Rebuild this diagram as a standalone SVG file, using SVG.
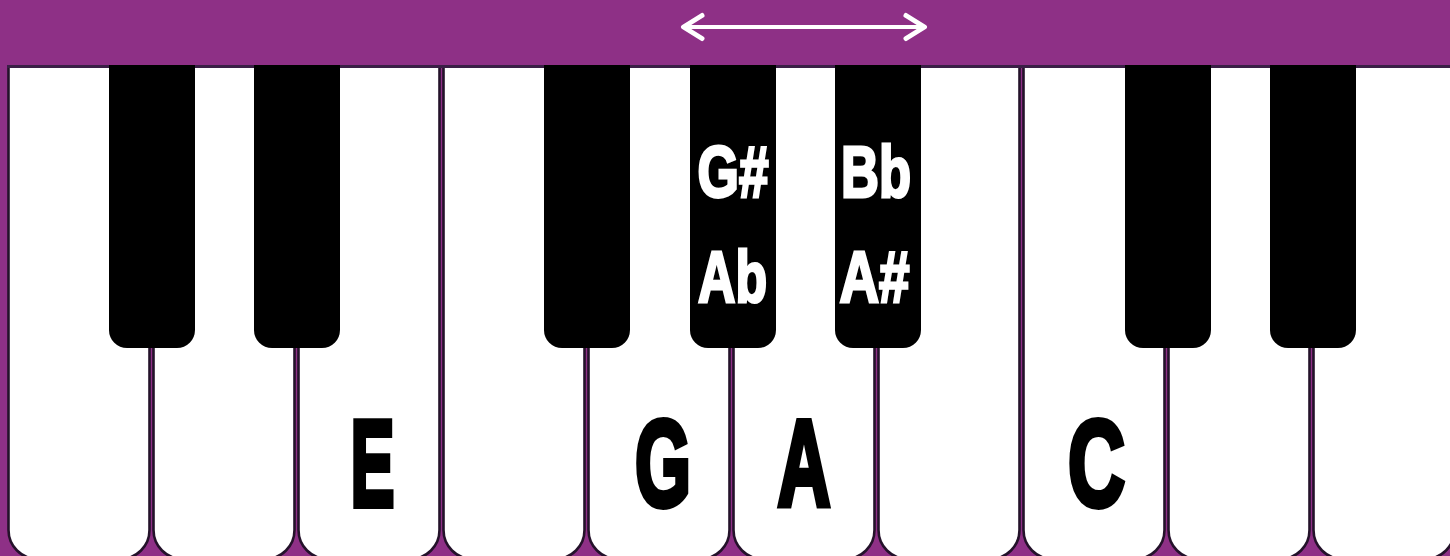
<svg xmlns="http://www.w3.org/2000/svg" width="1450" height="556" viewBox="0 0 1450 556">
<style>
.bg{fill:#8E3086}
.wk{fill:#ffffff;stroke:#24122a;stroke-width:2.6}
.bk{fill:#000000}
.big{font-family:"Liberation Sans",Arial,sans-serif;font-weight:bold;font-size:123px;fill:#000;stroke:#000;stroke-width:6;stroke-linejoin:miter;text-anchor:middle}
.sm{font-family:"Liberation Sans",Arial,sans-serif;font-weight:bold;font-size:72px;fill:#fff;stroke:#fff;stroke-width:3;text-anchor:middle}
.arr{fill:none;stroke:#ffffff;stroke-linecap:round;stroke-linejoin:round}
</style>
<rect class="bg" x="0" y="0" width="1450" height="556"/>
<g id="white-keys">
<g id="key-C1"><rect class="wk" x="8.5" y="30" width="141" height="529" rx="29"/></g>
<g id="key-D1"><rect class="wk" x="153.5" y="30" width="141" height="529" rx="29"/></g>
<g id="key-E1"><rect class="wk" x="298.5" y="30" width="141" height="529" rx="29"/><text class="big" x="372.5" y="506" textLength="44" lengthAdjust="spacingAndGlyphs">E</text></g>
<g id="key-F"><rect class="wk" x="443.5" y="30" width="141" height="529" rx="29"/></g>
<g id="key-G"><rect class="wk" x="588.5" y="30" width="141" height="529" rx="29"/><text class="big" x="663" y="506" textLength="56" lengthAdjust="spacingAndGlyphs">G</text></g>
<g id="key-A"><rect class="wk" x="733.5" y="30" width="141" height="529" rx="29"/><text class="big" x="804" y="506" textLength="53" lengthAdjust="spacingAndGlyphs">A</text></g>
<g id="key-B"><rect class="wk" x="878.5" y="30" width="141" height="529" rx="29"/></g>
<g id="key-C2"><rect class="wk" x="1023.5" y="30" width="141" height="529" rx="29"/><text class="big" x="1096.5" y="506" textLength="57" lengthAdjust="spacingAndGlyphs">C</text></g>
<g id="key-D2"><rect class="wk" x="1168.5" y="30" width="141" height="529" rx="29"/></g>
<g id="key-E2"><rect class="wk" x="1313.5" y="30" width="141" height="529" rx="29"/></g>
</g>
<rect x="7" y="65" width="1443" height="3" fill="#3a1f46"/>
<g id="black-keys">
<g id="key-Cs1"><rect class="bk" x="109" y="20" width="86" height="328" rx="18"/></g>
<g id="key-Ds1"><rect class="bk" x="254" y="20" width="86" height="328" rx="18"/></g>
<g id="key-Fs"><rect class="bk" x="544" y="20" width="86" height="328" rx="18"/></g>
<g id="key-Gs"><rect class="bk" x="690" y="20" width="86" height="328" rx="18"/><text class="sm" x="733" y="197" textLength="71" lengthAdjust="spacingAndGlyphs">G#</text><text class="sm" x="732.5" y="302" textLength="69" lengthAdjust="spacingAndGlyphs">Ab</text></g>
<g id="key-As"><rect class="bk" x="835" y="20" width="86" height="328" rx="18"/><text class="sm" x="876" y="197" textLength="70" lengthAdjust="spacingAndGlyphs">Bb</text><text class="sm" x="874.5" y="302" textLength="70" lengthAdjust="spacingAndGlyphs">A#</text></g>
<g id="key-Cs2"><rect class="bk" x="1125" y="20" width="86" height="328" rx="18"/></g>
<g id="key-Ds2"><rect class="bk" x="1270" y="20" width="86" height="328" rx="18"/></g>
</g>
<rect class="bg" x="0" y="0" width="1450" height="65"/>
<g id="connectors">
<line class="arr" x1="686" y1="27" x2="922" y2="27" stroke-width="4"/>
<polyline class="arr" points="702,15.5 683.5,27 702,38.5" stroke-width="5"/>
<polyline class="arr" points="906,15.5 924.5,27 906,38.5" stroke-width="5"/>
</g>
</svg>
